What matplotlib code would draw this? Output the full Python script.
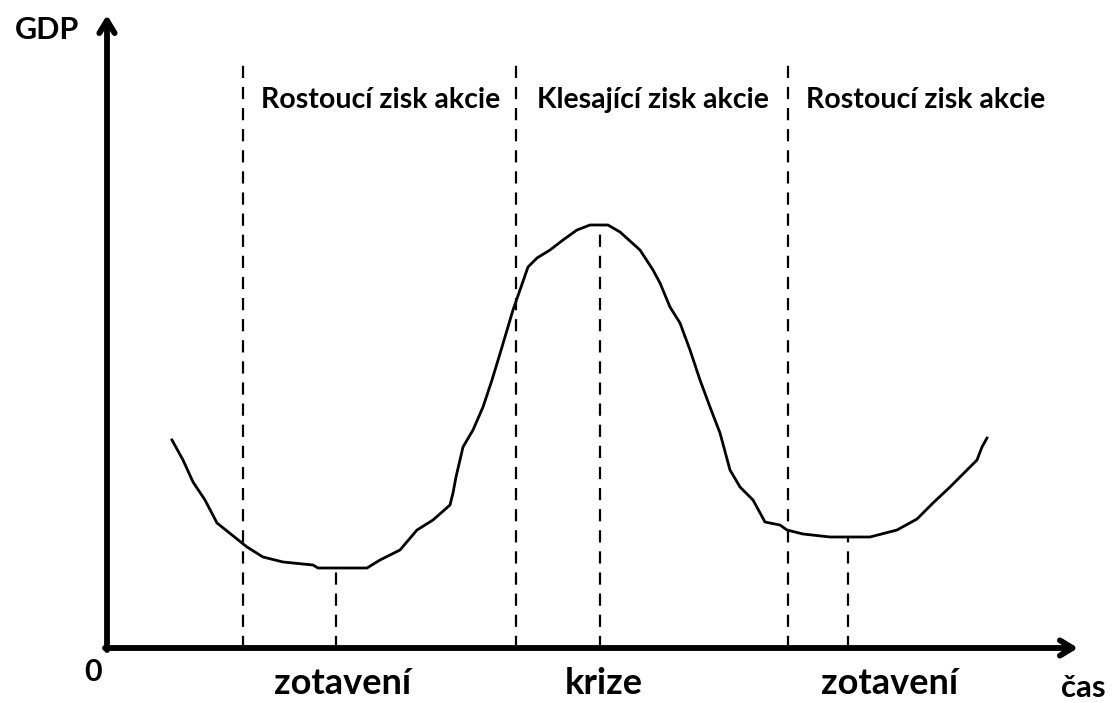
import matplotlib.pyplot as plt
import numpy as np

plt.rcParams['font.family'] = ['Lato', 'DejaVu Sans']

# hand-drawn GDP curve (time, gdp), origin at the axes corner
t = [65, 76, 86, 98, 110, 125, 140, 156, 176, 206, 211, 260, 273, 293, 310, 326,
     343, 346, 349, 356, 366, 376, 385, 395, 406, 413, 421, 430, 443, 456, 470,
     483, 501, 513, 533, 546, 553, 563, 573, 583, 593, 603, 613, 623, 633, 646,
     658, 673, 680, 696, 723, 763, 790, 810, 826, 843, 860, 870, 875, 880]
gdp = [208, 188, 166, 148, 125, 113, 101, 91, 86, 83, 80, 80, 88, 98, 118, 128,
       143, 155, 171, 201, 218, 241, 268, 301, 338, 358, 381, 390, 398, 408, 418,
       423, 423, 416, 398, 378, 365, 341, 325, 298, 268, 241, 215, 178, 161, 148,
       126, 123, 118, 114, 111, 111, 118, 129, 145, 161, 178, 188, 201, 210]

# dashed phase boundaries and turning points
phase_t = [136, 409, 681]
phase_top = 583
turn_t = [229, 493, 741]
turn_top = [80, 423, 110]

phase_labels = ['Rostoucí zisk akcie', 'Klesající zisk akcie', 'Rostoucí zisk akcie']
phase_label_t = [274, 546, 819]
turn_labels = ['zotavení', 'krize', 'zotavení']
turn_label_t = [236, 497, 783]

fig = plt.figure(figsize=(11.12, 7.03), dpi=100)
ax = fig.add_axes([0, 0, 1, 1])
ax.set_xlim(-107, 1005)
ax.set_ylim(-55, 648)
ax.axis('off')

# axes with open arrow heads
arrow = dict(arrowstyle='->, head_length=0.9, head_width=0.55', lw=4.2, color='black',
             shrinkA=0, shrinkB=0, capstyle='round', joinstyle='round')
ax.annotate('', xy=(0, 633), xytext=(0, -2), arrowprops=arrow)
ax.annotate('', xy=(971, 0), xytext=(-2, 0), arrowprops=arrow)

for x in phase_t:
    ax.plot([x, x], [0, phase_top], color='black', lw=1.6, dashes=(5.5, 4))
for x, top in zip(turn_t, turn_top):
    ax.plot([x, x], [0, top], color='black', lw=1.6, dashes=(5.5, 4))

ax.plot(t, gdp, color='black', lw=2.0)

for x, s in zip(phase_label_t, phase_labels):
    ax.text(x, 548, s, ha='center', va='center', fontsize=20.5, fontweight='bold')
for x, s in zip(turn_label_t, turn_labels):
    ax.text(x, -35, s, ha='center', va='center', fontsize=26, fontweight='bold')

ax.text(-60, 618, 'GDP', ha='center', va='center', fontsize=22, fontweight='bold')
ax.text(-14, -24, '0', ha='center', va='center', fontsize=22, fontweight='bold')
ax.text(976, -40, 'čas', ha='center', va='center', fontsize=22.5, fontweight='bold')

fig.savefig('out.png', dpi=100)
